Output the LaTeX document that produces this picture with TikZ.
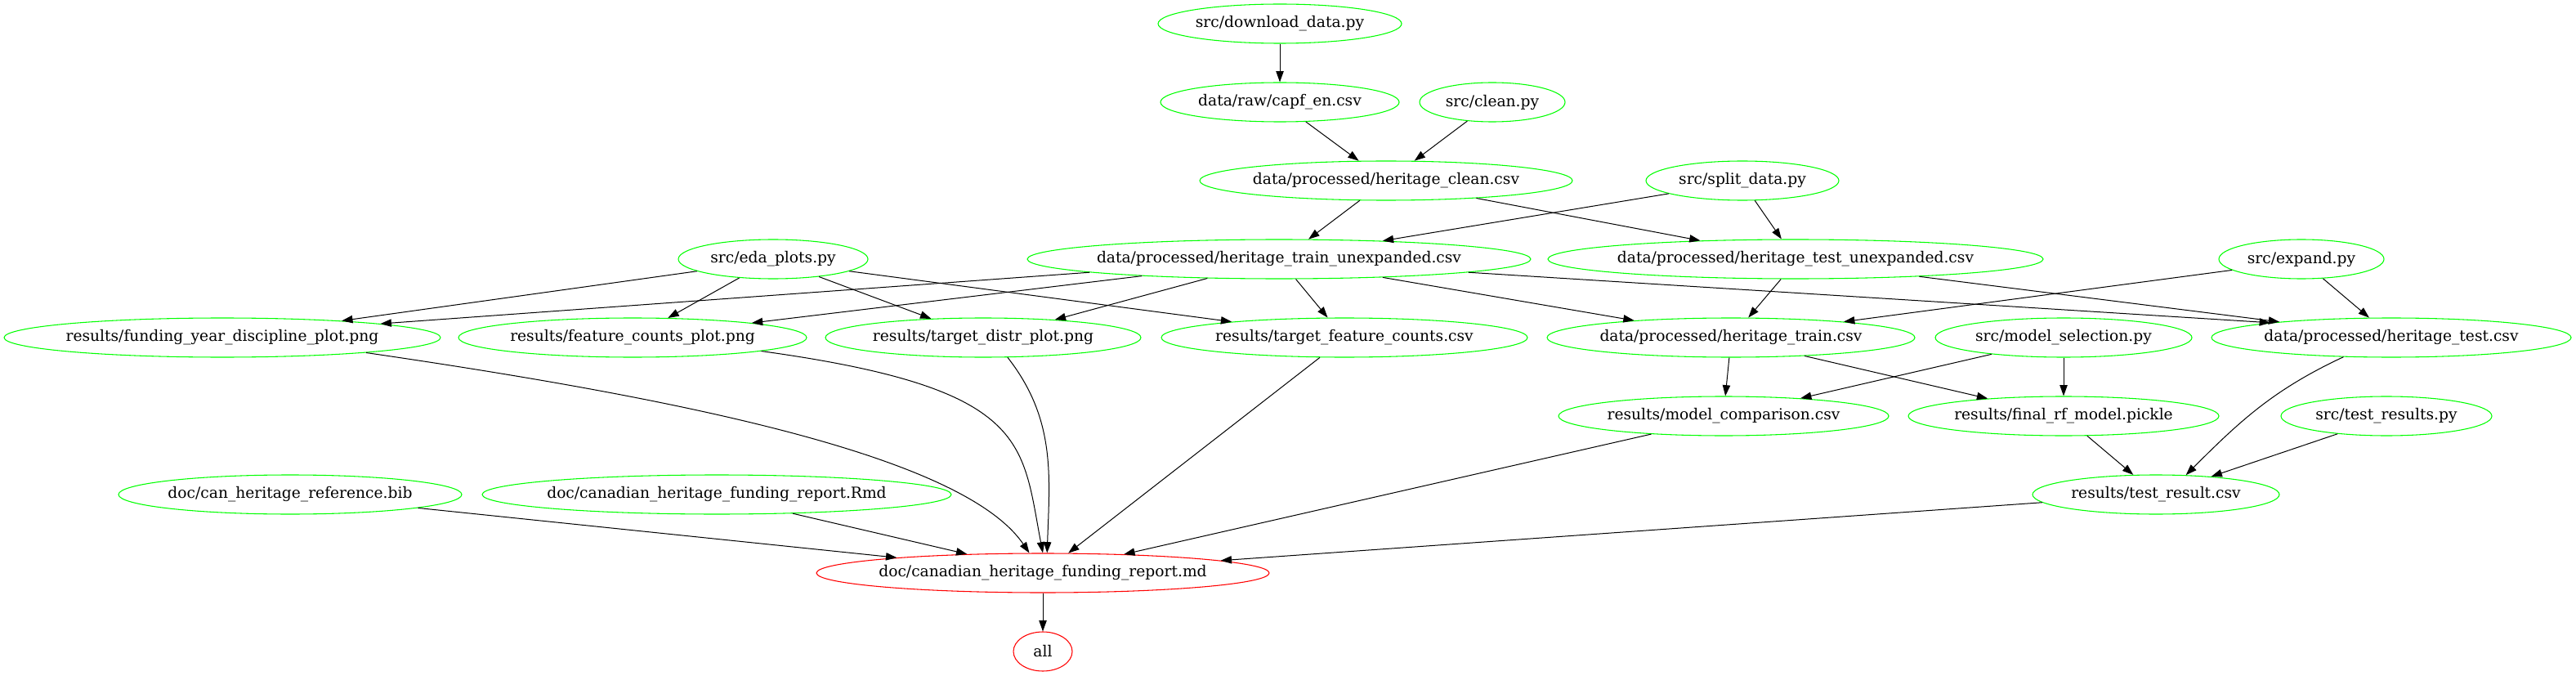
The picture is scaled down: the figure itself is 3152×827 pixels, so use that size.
\documentclass[tikz,border=0pt]{standalone}
\usepackage{fontspec}
\setmainfont{DejaVu Serif}
\usepackage{tikz}
\usetikzlibrary{shapes.geometric,arrows.meta}
\definecolor{gvGreen}{RGB}{0,255,0}
\definecolor{gvRed}{RGB}{255,0,0}
\tikzset{
  filenode/.style={ellipse,draw=gvGreen,line width=0.8pt,inner xsep=-20pt,inner ysep=0pt,
                   minimum height=36pt,minimum width=#1,
                   font=\fontsize{14pt}{16pt}\selectfont},
  goalnode/.style={filenode=#1,draw=gvRed},
  arr/.style={-{Triangle[length=10pt,width=7pt]},line width=0.75pt,color=black}
}
\begin{document}
\begin{tikzpicture}[x=0.75pt,y=-0.75pt]
  \useasboundingbox (0,0) rectangle (3152,827);

  % raw data and cleaning
  \node[filenode=223.5pt] (download) at (1566,29) {src/download\_data.py};
  \node[filenode=219pt] (raw) at (1566,125) {data/raw/capf\_en.csv};
  \node[filenode=133.5pt] (cleanpy) at (1826,125) {src/clean.py};
  \node[filenode=342pt] (hclean) at (1696,221) {data/processed/heritage\_clean.csv};
  \node[filenode=177pt] (splitpy) at (2132,221) {src/split\_data.py};

  % split and expand
  \node[filenode=174pt] (edapy) at (946,317) {src/eda\_plots.py};
  \node[filenode=462pt] (trainun) at (1565,317) {data/processed/heritage\_train\_unexpanded.csv};
  \node[filenode=454.5pt] (testun) at (2197,317) {data/processed/heritage\_test\_unexpanded.csv};
  \node[filenode=151.5pt] (expandpy) at (2816,317) {src/expand.py};

  % EDA results and model data
  \node[filenode=400.5pt] (fydplot) at (272,413) {results/funding\_year\_discipline\_plot.png};
  \node[filenode=319.5pt] (fcplot) at (774,413) {results/feature\_counts\_plot.png};
  \node[filenode=289.5pt] (tdplot) at (1203,413) {results/target\_distr\_plot.png};
  \node[filenode=336pt] (tfcounts) at (1645,413) {results/target\_feature\_counts.csv};
  \node[filenode=337.5pt] (htrain) at (2118,413) {data/processed/heritage\_train.csv};
  \node[filenode=235.5pt] (mselpy) at (2525,413) {src/model\_selection.py};
  \node[filenode=330pt] (htest) at (2926,413) {data/processed/heritage\_test.csv};

  % modelling
  \node[filenode=303pt] (mcomp) at (2109,509) {results/model\_comparison.csv};
  \node[filenode=285pt] (rfmodel) at (2525,509) {results/final\_rf\_model.pickle};
  \node[filenode=193.5pt] (testpy) at (2920,509) {src/test\_results.py};

  % report
  \node[filenode=315pt] (bib) at (355,605) {doc/can\_heritage\_reference.bib};
  \node[filenode=430.5pt] (rmd) at (877,605) {doc/canadian\_heritage\_funding\_report.Rmd};
  \node[filenode=226.5pt] (tresult) at (2638,605) {results/test\_result.csv};
  \node[goalnode=415.5pt] (report) at (1276,701) {doc/canadian\_heritage\_funding\_report.md};
  \node[goalnode=54pt] (all) at (1276,797) {all};

  \draw[arr] (download) -- (raw);
  \draw[arr] (raw.-37) -- (hclean.144);
  \draw[arr] (cleanpy.217.5) -- (hclean.35);
  \draw[arr] (hclean.217) -- (trainun.34);
  \draw[arr] (hclean.-11) -- (testun.169);
  \draw[arr] (splitpy.190) -- (trainun.10);
  \draw[arr] (splitpy.-58) -- (testun.125);
  \draw[arr] (edapy.189) -- (fydplot.8);
  \draw[arr] (edapy.209) -- (fcplot.29);
  \draw[arr] (edapy.-21) -- (tdplot.160);
  \draw[arr] (edapy.-9) -- (tfcounts.172);
  \draw[arr] (trainun.184) -- (fydplot.5);
  \draw[arr] (trainun.187) -- (fcplot.7);
  \draw[arr] (trainun.195) -- (tdplot.14.5);
  \draw[arr] (trainun.-50) -- (tfcounts.130);
  \draw[arr] (trainun.-10) -- (htrain.170);
  \draw[arr] (trainun.-4.5) -- (htest.173);
  \draw[arr] (testun.234) -- (htrain.49);
  \draw[arr] (testun.-8) -- (htest.172);
  \draw[arr] (expandpy.189) -- (htrain.8);
  \draw[arr] (expandpy.-42) -- (htest.138);
  \draw[arr] (htrain.-95) -- (mcomp.85);
  \draw[arr] (htrain.-14) -- (rfmodel.167);
  \draw[arr] (mselpy.193) -- (mcomp.13);
  \draw[arr] (mselpy) -- (rfmodel);
  \draw[arr] (htest.202) to[out=205,in=45] (tresult.33);
  \draw[arr] (rfmodel.-40) -- (tresult.139);
  \draw[arr] (testpy.200) -- (tresult.18);
  \draw[arr] (tresult.184.5) -- (report.4);
  \draw[arr] (mcomp.194) -- (report.13);
  \draw[arr] (tfcounts.219) -- (report.38);
  \draw[arr] (tdplot.-39) to[out=-52,in=88] (report.78);
  \draw[arr] (fcplot.-6.5) .. controls (1260,475) and (1250,540) .. (report.90);
  \draw[arr] (fydplot.-6.5) .. controls (850,490) and (1180,560) .. (report.124);
  \draw[arr] (bib.-6.5) -- (report.174);
  \draw[arr] (rmd.-14) -- (report.166.6);
  \draw[arr] (report) -- (all);

\end{tikzpicture}
\end{document}
